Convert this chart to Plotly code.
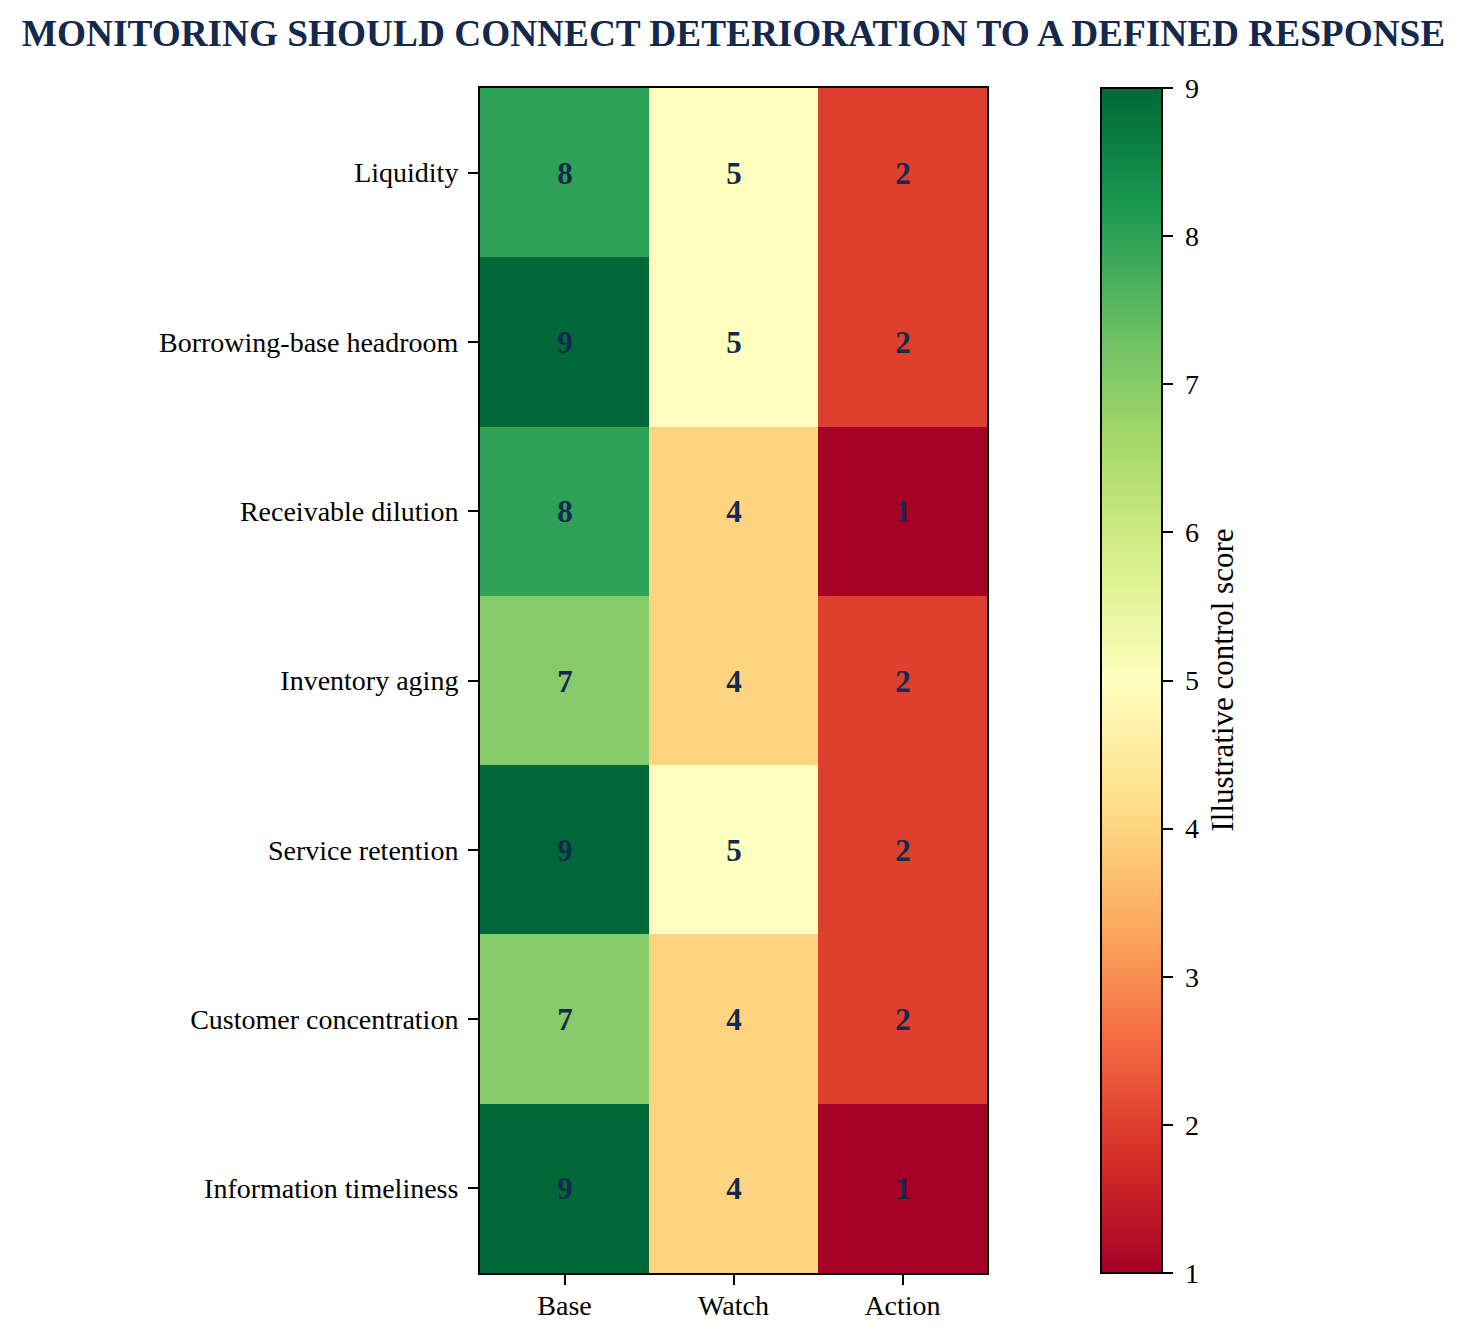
import plotly.graph_objects as go

# Data
metrics = [
    "Liquidity",
    "Borrowing-base headroom",
    "Receivable dilution",
    "Inventory aging",
    "Service retention",
    "Customer concentration",
    "Information timeliness",
]
stages = ["Base", "Watch", "Action"]
base_scores = [8, 9, 8, 7, 9, 7, 9]
watch_scores = [5, 5, 4, 4, 5, 4, 4]
action_scores = [2, 2, 1, 2, 2, 2, 1]

# matplotlib RdYlGn
rdylgn = [
    "#a50026", "#d73027", "#f46d43", "#fdae61", "#fee08b", "#ffffbf",
    "#d9ef8b", "#a6d96a", "#66bd63", "#1a9850", "#006837",
]
colorscale = [[i / 10, c] for i, c in enumerate(rdylgn)]

navy = "#14294c"
font_family = "Liberation Serif, Times New Roman, serif"

W, H = 1466, 1342
# page body adds an 8px offset, so margins are shifted by that
left, top = 472, 80
plot_w, plot_h = 507, 1185

z = [list(row) for row in zip(base_scores, watch_scores, action_scores)]

fig = go.Figure()
fig.add_trace(
    go.Heatmap(
        z=z,
        x=stages,
        y=metrics,
        zmin=1,
        zmax=9,
        colorscale=colorscale,
        texttemplate="%{z}",
        textfont=dict(family=font_family, size=31, color=navy, weight="bold"),
        hoverinfo="skip",
        colorbar=dict(
            x=(1101 - 480) / plot_w,
            xanchor="left",
            xpad=0,
            y=0.5,
            yanchor="middle",
            ypad=0,
            len=1,
            lenmode="fraction",
            thickness=61,
            thicknessmode="pixels",
            outlinewidth=2,
            outlinecolor="black",
            ticks="outside",
            ticklen=10,
            tickwidth=2,
            tickcolor="black",
            tick0=1,
            dtick=1,
            tickprefix=" ",
            tickfont=dict(family=font_family, size=28, color="black"),
        ),
    )
)

# colorbar label placed as a rotated annotation
fig.add_annotation(
    text="Illustrative control score",
    x=(1222 - 480) / plot_w,
    y=0.5,
    xref="paper",
    yref="paper",
    xanchor="center",
    yanchor="middle",
    textangle=-90,
    showarrow=False,
    font=dict(family=font_family, size=31, color="black"),
)

axis_style = dict(
    showline=True,
    linecolor="black",
    linewidth=2,
    mirror=True,
    ticks="outside",
    ticklen=10,
    tickwidth=2,
    tickcolor="black",
    tickfont=dict(family=font_family, size=28, color="black"),
    showgrid=False,
    zeroline=False,
)
fig.update_xaxes(**axis_style, ticklabelstandoff=-4)
fig.update_yaxes(**axis_style, autorange="reversed", ticklabelstandoff=4)

fig.update_layout(
    width=W,
    height=H,
    margin=dict(l=left, r=W - left - plot_w, t=top, b=H - top - plot_h, pad=0),
    paper_bgcolor="white",
    plot_bgcolor="white",
    title=dict(
        text="<b>MONITORING SHOULD CONNECT DETERIORATION TO A DEFINED RESPONSE</b>",
        x=0.5,
        xanchor="center",
        xref="paper",
        y=1 - 25 / H,
        yanchor="middle",
        yref="container",
        font=dict(family=font_family, size=37.3, color=navy),
    ),
)

fig.write_html("out.html")
